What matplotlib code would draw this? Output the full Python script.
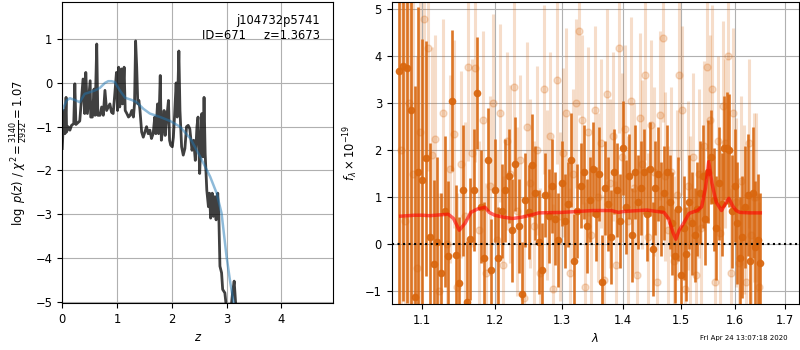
import matplotlib
matplotlib.use("Agg")
import matplotlib.pyplot as plt
from matplotlib.ticker import NullLocator, FixedLocator, FixedFormatter

plt.rcParams['font.size'] = 8.3

# --- redshift probability panel ---
z_grid = [0.0, 0.03, 0.05, 0.07, 0.08, 0.11, 0.14, 0.17, 0.21, 0.23, 0.25,
          0.32, 0.38, 0.41, 0.43, 0.46, 0.51, 0.52, 0.55, 0.58, 0.60, 0.63,
          0.65, 0.69, 0.72, 0.75, 0.78, 0.81, 0.87, 0.90, 0.93, 0.96, 0.99,
          1.01, 1.03, 1.05, 1.08, 1.10, 1.13, 1.15, 1.18, 1.21, 1.24, 1.27,
          1.30, 1.32, 1.34, 1.36, 1.38, 1.40, 1.42, 1.45, 1.48, 1.51, 1.54,
          1.57, 1.60, 1.63, 1.66, 1.69, 1.71, 1.74, 1.76, 1.79, 1.81, 1.84,
          1.86, 1.88, 1.91, 1.94, 1.96, 1.98, 2.01, 2.03, 2.05, 2.08, 2.10,
          2.13, 2.15, 2.18, 2.21, 2.24, 2.27, 2.30, 2.33, 2.37, 2.40, 2.43,
          2.46, 2.48, 2.51, 2.53, 2.55, 2.57, 2.59, 2.61, 2.64, 2.67, 2.69,
          2.71, 2.74, 2.76, 2.79, 2.81, 2.84, 2.86, 2.88, 2.91, 2.93, 2.97,
          3.02, 3.08, 3.11, 3.14, 3.17, 3.22]
log_pz = [-1.50, -0.63, -1.16, -0.33, -1.12, -1.00, -1.08, -0.97, -0.93, -0.02,
          -0.95, -0.87, 0.09, -0.70, 0.24, -0.70, 0.05, -0.78, -0.78, -0.14,
          -0.74, 0.89, -0.74, -0.74, -0.55, -0.74, -0.17, -0.63, -0.48, -0.67,
          -0.70, -0.25, 0.24, -0.63, 0.36, -0.55, 0.32, -0.48, 0.36, -0.63,
          -0.70, -0.78, -0.74, -0.63, -0.78, -0.48, 0.96, 0.36, -0.48, -0.40,
          -0.63, -1.12, -1.24, -1.12, -1.00, -1.16, -1.08, -1.27, -1.16, -0.78,
          -1.16, -0.48, -1.16, 0.17, -1.31, -1.00, -0.63, -1.20, -0.78, -0.40,
          -1.31, -1.42, -1.46, -1.24, -0.78, 0.00, -0.78, 0.73, -0.63, -1.46,
          -1.65, -1.50, -1.00, -0.97, -1.05, -1.54, -1.31, -1.77, -1.00, -0.78,
          -2.07, -1.39, -0.70, -1.69, -0.33, -1.61, -2.45, -2.83, -2.52, -3.09,
          -2.52, -3.05, -2.60, -3.13, -2.52, -3.05, -4.19, -4.34, -4.72, -4.80,
          -5.40, -5.20, -4.80, -4.53, -5.10, -5.60]

z_smooth = [0.0, 0.08, 0.14, 0.23, 0.32, 0.41, 0.51, 0.60, 0.69, 0.78, 0.84,
            0.90, 0.96, 1.05, 1.15, 1.27, 1.36, 1.48, 1.60, 1.79, 1.97, 2.15,
            2.34, 2.52, 2.70, 2.82, 2.91, 3.00, 3.07, 3.13, 3.20]
log_pz_smooth = [-0.63, -0.40, -0.35, -0.39, -0.44, -0.25, -0.21, -0.17, -0.11,
                 0.00, 0.04, 0.04, 0.02, -0.17, -0.34, -0.39, -0.44, -0.59,
                 -0.70, -0.78, -0.87, -1.00, -1.27, -1.69, -2.14, -2.52, -2.98,
                 -3.96, -4.57, -5.02, -5.60]

# --- spectrum panel: dark points ---
wave_a = [1.070, 1.075, 1.080, 1.085, 1.090, 1.095, 1.100, 1.105, 1.110, 1.115,
          1.120, 1.125, 1.130, 1.135, 1.140, 1.145, 1.150, 1.155, 1.160, 1.165,
          1.170, 1.175, 1.180, 1.185, 1.190, 1.195, 1.200, 1.205, 1.210, 1.215,
          1.220, 1.225, 1.230, 1.235, 1.240, 1.245, 1.250, 1.255, 1.260, 1.265,
          1.270, 1.275, 1.280, 1.285, 1.290, 1.295, 1.300, 1.305, 1.310, 1.315,
          1.320, 1.325, 1.330, 1.335, 1.340, 1.345, 1.350, 1.355, 1.360, 1.365,
          1.370, 1.375, 1.380, 1.385, 1.390, 1.395, 1.400, 1.405, 1.410, 1.415,
          1.420, 1.425, 1.430, 1.435, 1.440, 1.445, 1.450, 1.455, 1.460, 1.465,
          1.470, 1.475, 1.480, 1.485, 1.490, 1.495, 1.500, 1.505, 1.510, 1.515,
          1.520, 1.525, 1.530, 1.535, 1.540, 1.545, 1.550, 1.555, 1.560, 1.565,
          1.570, 1.575, 1.580, 1.585, 1.590, 1.595, 1.600, 1.605, 1.610, 1.615,
          1.620, 1.625, 1.630, 1.635, 1.640, 1.645, 1.650]
flux_a = [3.70, 3.80, 3.75, 2.85, -1.13, 1.55, 1.37, 1.83, 0.15, -0.42,
          0.05, -0.60, 0.70, -0.25, 3.06, -0.23, -0.82, 1.15, -1.23, 0.12,
          1.15, 3.22, 0.80, -0.30, 1.80, -0.55, 1.15, -0.30, 0.70, 1.15,
          1.45, 0.30, 1.72, 0.40, -1.05, 0.95, 0.68, 1.68, 1.10, 0.05,
          -0.55, 1.05, 0.60, 1.25, 0.55, 0.10, 1.30, 0.50, 0.85, 1.80,
          -0.35, 0.72, 1.25, 1.55, 0.40, 0.95, 1.60, 0.65, 1.50, -0.80,
          1.20, 0.85, 0.15, 1.55, 1.15, 0.50, 2.05, 0.80, 1.45, 0.20,
          1.55, 0.90, 1.20, 1.55, 0.65, 1.60, -0.10, 1.20, 1.50, 0.75,
          1.10, 1.55, 0.90, 0.45, -0.25, 0.75, -0.65, 0.35, -0.20, 0.90,
          0.45, 0.20, 0.75, 1.10, 1.45, 0.55, 1.55, 1.85, 0.95, 0.35,
          1.30, 0.85, 2.05, 2.05, 2.00, 0.70, 1.25, 0.45, -0.30, 0.15,
          0.80, 1.05, -0.35, 1.10, -0.05, 0.10, -0.40]
err_a = [5.0, 5.0, 5.0, 4.5, 4.5, 3.5, 3.0, 2.5, 2.0, 1.8,
         1.8, 1.7, 1.6, 1.6, 1.5, 1.5, 1.4, 1.4, 1.3, 1.3,
         1.3, 1.2, 1.2, 1.2, 1.1, 1.1, 1.1, 1.1, 1.0, 1.1,
         1.0, 1.1, 1.0, 1.0, 1.1, 1.0, 1.0, 1.1, 1.0, 1.1,
         1.0, 0.9, 1.0, 1.0, 1.0, 1.0, 0.9, 1.0, 0.9, 1.0,
         1.0, 1.0, 0.9, 1.0, 1.0, 0.9, 1.0, 1.0, 1.0, 1.0,
         1.0, 1.0, 1.0, 0.9, 1.0, 1.0, 1.0, 1.0, 0.9, 1.0,
         1.0, 1.0, 1.0, 0.9, 1.0, 1.0, 1.0, 1.0, 1.0, 1.0,
         1.0, 1.0, 1.0, 1.1, 1.0, 1.1, 1.0, 1.1, 1.0, 1.0,
         1.1, 1.0, 1.0, 1.1, 1.1, 1.0, 1.1, 1.0, 1.1, 1.1,
         1.2, 1.1, 1.1, 1.2, 1.2, 1.2, 1.2, 1.3, 1.3, 1.3,
         1.3, 1.3, 1.4, 1.4, 1.4, 1.4, 1.5]

# --- spectrum panel: light points ---
wave_b = [1.0725, 1.0775, 1.0825, 1.0875, 1.0925, 1.0975, 1.1025, 1.1075,
          1.1125, 1.1175, 1.1225, 1.1275, 1.1325, 1.1375, 1.1425, 1.1475,
          1.1525, 1.1575, 1.1625, 1.1675, 1.1725, 1.1775, 1.1825, 1.1875,
          1.1925, 1.1975, 1.2025, 1.2075, 1.2125, 1.2175, 1.2225, 1.2275,
          1.2325, 1.2375, 1.2425, 1.2475, 1.2525, 1.2575, 1.2625, 1.2675,
          1.2725, 1.2775, 1.2825, 1.2875, 1.2925, 1.2975, 1.3025, 1.3075,
          1.3125, 1.3175, 1.3225, 1.3275, 1.3325, 1.3375, 1.3425, 1.3475,
          1.3525, 1.3575, 1.3625, 1.3675, 1.3725, 1.3775, 1.3825, 1.3875,
          1.3925, 1.3975, 1.4025, 1.4075, 1.4125, 1.4175, 1.4225, 1.4275,
          1.4325, 1.4375, 1.4425, 1.4475, 1.4525, 1.4575, 1.4625, 1.4675,
          1.4725, 1.4775, 1.4825, 1.4875, 1.4925, 1.4975, 1.5025, 1.5075,
          1.5125, 1.5175, 1.5225, 1.5275, 1.5325, 1.5375, 1.5425, 1.5475,
          1.5525, 1.5575, 1.5625, 1.5675, 1.5725, 1.5775, 1.5825, 1.5875,
          1.5925, 1.5975, 1.6025, 1.6075, 1.6125, 1.6175, 1.6225, 1.6275,
          1.6325, 1.6375, 1.6425, 1.6475]
flux_b = [2.00, 0.50, 3.00, 1.50, -0.50, 2.40, 4.80, 4.17, 1.90, 2.25,
          -1.00, 2.80, 0.00, 1.60, 2.35, -0.90, 1.70, 0.60, 3.78, 1.95,
          3.75, 0.30, 2.65, -0.60, 1.25, 3.00, 0.10, 2.80, -0.45, 2.20,
          1.50, 3.35, 0.70, 1.80, -1.15, 2.50, 1.30, 0.40, 2.00, -0.60,
          3.30, 1.05, 2.30, -0.95, 3.50, 0.60, 1.95, 2.80, -0.60, 1.50,
          3.00, 4.55, 2.65, -0.90, 2.40, 0.20, 2.85, 1.00, 2.15, -0.75,
          3.20, 1.30, 2.30, -0.45, 4.17, 1.85, 2.45, 0.50, 3.05, 1.20,
          -0.65, 2.70, 1.70, 3.60, 0.15, 2.55, 1.55, -0.80, 2.75, 4.40,
          1.45, 0.30, 1.55, -0.35, 1.05, 3.60, 2.85, -0.95, 1.25, 0.50,
          1.85, -0.65, 1.50, 0.35, 2.10, 3.78, 2.65, 3.30, -0.80, 2.20,
          0.25, 2.95, 2.15, 4.00, -0.60, 2.80, 0.90, -0.40, 1.35, 0.75,
          -0.80, 2.15, 0.20, 1.00, 1.00, -0.90]
err_b = [5.0, 5.0, 5.0, 5.0, 4.5, 4.0, 3.0, 2.6, 2.3, 2.2,
         2.1, 2.0, 2.0, 2.0, 2.0, 2.0, 2.0, 2.0, 2.0, 2.0,
         2.0, 1.9, 1.9, 1.9, 1.9, 1.9, 1.9, 1.9, 1.9, 1.9,
         1.9, 1.9, 1.8, 1.8, 1.8, 1.8, 1.8, 1.8, 1.8, 1.8,
         1.8, 1.8, 1.8, 1.8, 1.8, 1.8, 1.8, 1.8, 1.8, 1.8,
         1.8, 1.8, 1.8, 1.8, 1.8, 1.8, 1.8, 1.8, 1.8, 1.8,
         1.8, 1.8, 1.8, 1.8, 1.8, 1.8, 1.8, 1.8, 1.8, 1.8,
         1.8, 1.8, 1.8, 1.8, 1.8, 1.8, 1.8, 1.8, 1.8, 1.8,
         1.8, 1.8, 1.8, 1.8, 1.8, 1.8, 1.8, 1.8, 1.8, 1.8,
         1.8, 1.8, 1.8, 1.8, 1.8, 1.8, 1.8, 1.8, 1.8, 1.8,
         1.8, 1.8, 1.8, 1.8, 1.8, 1.8, 1.8, 1.8, 1.8, 1.8,
         1.8, 1.8, 1.8, 1.8, 1.8, 1.8]

# --- best-fit model ---
wave_model = [1.072, 1.090, 1.100, 1.110, 1.125, 1.135, 1.142, 1.150, 1.158,
              1.166, 1.175, 1.186, 1.192, 1.200, 1.212, 1.226, 1.240, 1.255,
              1.265, 1.300, 1.350, 1.380, 1.392, 1.400, 1.440, 1.470, 1.478,
              1.486, 1.491, 1.497, 1.505, 1.515, 1.530, 1.538, 1.545, 1.551,
              1.557, 1.565, 1.575, 1.582, 1.589, 1.596, 1.603, 1.610, 1.630,
              1.650]
flux_model = [0.60, 0.62, 0.62, 0.61, 0.63, 0.64, 0.55, 0.30, 0.45, 0.68,
              0.75, 0.79, 0.68, 0.62, 0.58, 0.55, 0.58, 0.63, 0.67, 0.68,
              0.72, 0.72, 0.68, 0.70, 0.73, 0.68, 0.55, 0.25, 0.11, 0.30,
              0.45, 0.66, 0.72, 0.80, 1.20, 1.76, 1.30, 0.90, 0.72, 0.85,
              0.98, 0.82, 0.72, 0.68, 0.67, 0.67]

date_text = "Fri Apr 24 13:07:18 2020"

fig = plt.figure(figsize=(8, 3.5), dpi=100)

ax1 = fig.add_axes([0.0778, 0.1343, 0.3388, 0.86])
ax1.plot(z_grid, log_pz, color='k', alpha=0.75, lw=2)
ax1.plot(z_smooth, log_pz_smooth, color='#1f77b4', alpha=0.5, lw=1.8)
ax1.set_xlim(0, 4.95)
ax1.set_ylim(-5.03, 1.85)
ax1.set_xticks([0, 1, 2, 3, 4])
ax1.set_yticks([-5, -4, -3, -2, -1, 0, 1])
ax1.grid(True)
ax1.set_xlabel(r'$z$')
ax1.set_ylabel(r'$\log\ p(z)$ / $\chi^2=\frac{3140}{2932}=1.07$')
ax1.text(0.95, 0.96, 'j104732p5741\nID=671     z=1.3673', ha='right',
         va='top', transform=ax1.transAxes)

orange = '#d9670f'
ax2 = fig.add_axes([0.4896, 0.1314, 0.5095, 0.863])
ax2.errorbar(wave_b, flux_b, err_b, color=orange, marker='o', ms=5,
             linestyle='none', elinewidth=2.2, alpha=0.22)
ax2.errorbar(wave_a, flux_a, err_a, color=orange, marker='o', ms=4.5,
             linestyle='none', elinewidth=1.9, alpha=0.9)
ax2.plot(wave_model, flux_model, color='r', alpha=0.6, lw=2.5, zorder=5)
ax2.axhline(0, color='k', linestyle=':', lw=1.5, zorder=6)
ax2.set_xscale('log')
ax2.set_xlim(1.0604, 1.729)
ax2.set_ylim(-1.27, 5.16)
ticks = [1.1, 1.2, 1.3, 1.4, 1.5, 1.6, 1.7]
ax2.xaxis.set_major_locator(FixedLocator(ticks))
ax2.xaxis.set_major_formatter(FixedFormatter(['%.1f' % t for t in ticks]))
ax2.xaxis.set_minor_locator(NullLocator())
ax2.set_yticks([-1, 0, 1, 2, 3, 4, 5])
ax2.grid(True)
ax2.set_xlabel(r'$\lambda$')
ax2.set_ylabel(r'$f_\lambda\times10^{-19}$')

fig.text(0.984, 0.025, date_text, ha='right', va='bottom', fontsize=5)

fig.savefig('out.png', dpi=100)
